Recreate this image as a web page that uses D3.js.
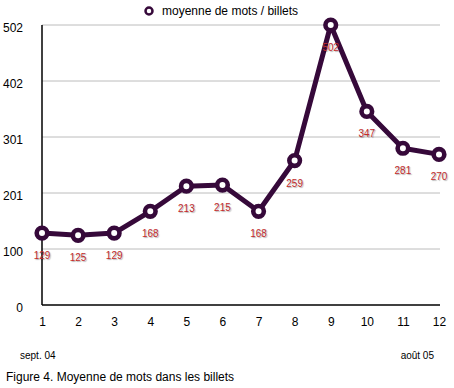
<!DOCTYPE html>
<html>
<head>
<meta charset="utf-8">
<script src="https://cdn.jsdelivr.net/npm/d3@7"></script>
<style>
body { margin: 0; background: #fff; }
text { font-family: "Liberation Sans", Arial, sans-serif; }
</style>
</head>
<body>
<svg id="chart"></svg>
<script>
// data
var months = [1, 2, 3, 4, 5, 6, 7, 8, 9, 10, 11, 12];
var moyenne = [129, 125, 129, 168, 213, 215, 168, 259, 502, 347, 281, 270];
var yTicks = [0, 100.4, 200.8, 301.2, 401.6, 502];
var seriesName = "moyenne de mots / billets";

var w = 454, h = 388;
var margin = {top: 25, right: 14, bottom: 83, left: 42};
var width = w - margin.left - margin.right,
height = h - margin.top - margin.bottom;

var lineColor = "#36093a";

var svg = d3.select("#chart")
.attr("width", w)
.attr("height", h);

var g = svg.append("g")
.attr("transform", "translate(" + margin.left + "," + margin.top + ")");

// scales
var x = d3.scaleLinear()
.domain([1, 12])
.range([0, width - 1]);

var y = d3.scaleLinear()
.domain([0, 502])
.range([height, 0]);

// gridlines
g.selectAll(".grid")
.data(yTicks.slice(1))
.enter()
.append("line")
.attr("x1", 0)
.attr("x2", width)
.attr("y1", function(d){ return y(d); })
.attr("y2", function(d){ return y(d); })
.attr("stroke", "#bcbcbc")
.attr("stroke-width", 1);

// y axis
var yAxis = g.append("g")
.call(d3.axisLeft(y).tickValues(yTicks).tickSize(0).tickPadding(19)
  .tickFormat(function(d){ return Math.round(d); }));
yAxis.select(".domain").remove();
yAxis.selectAll("text")
.attr("dy", "0.5em")
.style("font-size", "12px")
.style("fill", "#000");

// x axis
var xAxis = g.append("g")
.attr("transform", "translate(0," + height + ")")
.call(d3.axisBottom(x).tickValues(months).tickSize(0).tickPadding(12)
  .tickFormat(d3.format("d")));
xAxis.select(".domain").remove();
xAxis.selectAll("text")
.style("font-size", "12px")
.style("fill", "#000");

// axis lines
g.append("line")
.attr("x1", 0).attr("x2", 0)
.attr("y1", 0).attr("y2", height)
.attr("stroke", "#000").attr("stroke-width", 1.5);
g.append("line")
.attr("x1", 0).attr("x2", width)
.attr("y1", height).attr("y2", height)
.attr("stroke", "#000").attr("stroke-width", 1.5);

// line
var line = d3.line()
.x(function(d, i){ return x(months[i]); })
.y(function(d){ return y(d); });

g.append("path")
.datum(moyenne)
.attr("d", line)
.attr("fill", "none")
.attr("stroke", lineColor)
.attr("stroke-width", 5)
.attr("stroke-linejoin", "round");

// markers
g.selectAll(".pt")
.data(moyenne)
.enter()
.append("circle")
.attr("cx", function(d, i){ return x(months[i]); })
.attr("cy", function(d){ return y(d); })
.attr("r", 5.3)
.attr("fill", "#fff")
.attr("stroke", lineColor)
.attr("stroke-width", 4.6);

// value labels
g.selectAll(".val")
.data(moyenne)
.enter()
.append("text")
.attr("x", function(d, i){ return x(months[i]); })
.attr("y", function(d){ return y(d) + 26; })
.attr("text-anchor", "middle")
.style("font-size", "10px")
.style("fill", "#c22b2b")
.style("text-shadow", "1px 1px 1px rgba(0,0,0,0.3)")
.text(function(d){ return d; });

// legend
svg.append("circle")
.attr("cx", 149).attr("cy", 11)
.attr("r", 3.5)
.attr("fill", "#fff")
.attr("stroke", lineColor)
.attr("stroke-width", 2.5);
svg.append("text")
.attr("x", 162).attr("y", 15)
.style("font-size", "12px")
.text(seriesName);

// period labels
svg.append("text")
.attr("x", 20).attr("y", 359)
.style("font-size", "10px")
.text("sept. 04");
svg.append("text")
.attr("x", 434).attr("y", 359)
.attr("text-anchor", "end")
.style("font-size", "10px")
.text("août 05");

// caption
svg.append("text")
.attr("x", 6).attr("y", 381)
.style("font-size", "12px")
.text("Figure 4. Moyenne de mots dans les billets");
</script>
</body>
</html>
